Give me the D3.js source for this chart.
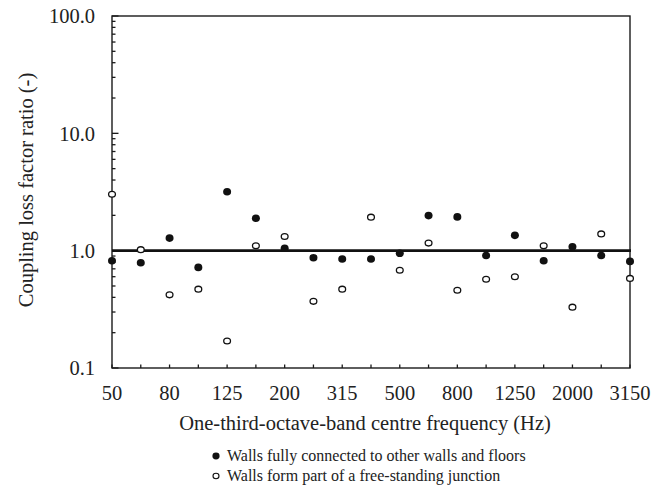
<!DOCTYPE html>
<html>
<head>
<meta charset="utf-8">
<script src="https://cdn.jsdelivr.net/npm/d3@7"></script>
<style>
  html, body { margin: 0; padding: 0; background: #fff; }
  svg { display: block; }
</style>
</head>
<body>
<svg id="chart" width="651" height="488"></svg>
<script>
const categories = [50, 63, 80, 100, 125, 160, 200, 250, 315, 400, 500, 630, 800, 1000, 1250, 1600, 2000, 2500, 3150];
const xTickLabels = [50, 80, 125, 200, 315, 500, 800, 1250, 2000, 3150];
const connected = [0.82, 0.79, 1.28, 0.72, 3.18, 1.89, 1.05, 0.87, 0.85, 0.85, 0.95, 1.99, 1.94, 0.91, 1.35, 0.82, 1.08, 0.91, 0.81];
const freeStanding = [3.03, 1.02, 0.42, 0.47, 0.17, 1.10, 1.32, 0.37, 0.47, 1.93, 0.68, 1.16, 0.46, 0.57, 0.60, 1.10, 0.33, 1.39, 0.58];
const yTickValues = [0.1, 1, 10, 100];
const referenceValue = 1.0;
const legendLabels = ["Walls fully connected to other walls and floors", "Walls form part of a free-standing junction"];

(function () {
const FONT = "'Liberation Serif', 'DejaVu Serif', 'Times New Roman', serif";
const TXT = "#222";
const svg = d3.select("#chart");
const pLeft = 112, pRight = 630, pTop = 16, pBottom = 368;

const x = d3.scalePoint().domain(categories).range([pLeft, pRight]).padding(0);
const y = d3.scaleLog().domain([0.1, 100]).range([pBottom, pTop]);

const axisColor = "#1a1a1a";

// minor y ticks
const minor = [];
for (let d = 0.1; d < 100; d *= 10) {
  for (let k = 2; k <= 9; k++) minor.push(+(d * k).toPrecision(3));
}
svg.append("g").selectAll("line").data(minor).join("line")
  .attr("x1", pLeft).attr("x2", pLeft + 3.5)
  .attr("y1", d => y(d)).attr("y2", d => y(d))
  .attr("stroke", axisColor).attr("stroke-width", 1.3);
svg.append("g").selectAll("line").data(yTickValues).join("line")
  .attr("x1", pLeft).attr("x2", pLeft + 6.5)
  .attr("y1", d => y(d)).attr("y2", d => y(d))
  .attr("stroke", axisColor).attr("stroke-width", 1.3);

// x ticks (inward)
svg.append("g").selectAll("line").data(categories).join("line")
  .attr("x1", d => x(d)).attr("x2", d => x(d))
  .attr("y1", pBottom).attr("y2", pBottom - 3.5)
  .attr("stroke", axisColor).attr("stroke-width", 1.3);

// frame
svg.append("rect")
  .attr("x", pLeft).attr("y", pTop)
  .attr("width", pRight - pLeft).attr("height", pBottom - pTop)
  .attr("fill", "none").attr("stroke", axisColor).attr("stroke-width", 1.4);

// y tick labels
svg.append("g").selectAll("text").data(yTickValues).join("text")
  .attr("x", pLeft - 17).attr("y", d => y(d))
  .attr("dy", "0.35em")
  .attr("text-anchor", "end")
  .attr("font-family", FONT).attr("fill", TXT)
  .attr("font-size", 20.5)
  .text(d => d3.format(".1f")(d));

// x tick labels
svg.append("g").selectAll("text").data(xTickLabels).join("text")
  .attr("x", d => x(d)).attr("y", 400)
  .attr("text-anchor", "middle")
  .attr("font-family", FONT).attr("fill", TXT)
  .attr("font-size", 20.5)
  .text(d => d);

// axis titles
svg.append("text")
  .attr("x", 365).attr("y", 430)
  .attr("text-anchor", "middle").attr("font-size", 20.5)
  .attr("font-family", FONT).attr("fill", TXT)
  .text("One-third-octave-band centre frequency (Hz)");
svg.append("text")
  .attr("transform", `translate(33, ${(pTop + pBottom) / 2 - 2}) rotate(-90)`)
  .attr("text-anchor", "middle").attr("font-size", 20.5)
  .attr("font-family", FONT).attr("fill", TXT)
  .text("Coupling loss factor ratio (-)");

// reference line
svg.append("line")
  .attr("x1", pLeft).attr("x2", pRight + 1)
  .attr("y1", y(referenceValue)).attr("y2", y(referenceValue))
  .attr("stroke", "#111").attr("stroke-width", 2.6);

// filled points
svg.append("g").selectAll("ellipse").data(categories.map((c, i) => [c, connected[i]])).join("ellipse")
  .attr("cx", d => x(d[0])).attr("cy", d => y(d[1]))
  .attr("rx", 4).attr("ry", 3.8)
  .attr("fill", "#111");

// open points
svg.append("g").selectAll("ellipse").data(categories.map((c, i) => [c, freeStanding[i]])).join("ellipse")
  .attr("cx", d => x(d[0])).attr("cy", d => y(d[1]))
  .attr("rx", 3.4).attr("ry", 2.9)
  .attr("fill", "#fff").attr("stroke", "#111").attr("stroke-width", 1.3);

// legend
const lg = svg.append("g");
lg.append("ellipse").attr("cx", 216).attr("cy", 456).attr("rx", 3.6).attr("ry", 3.4).attr("fill", "#111");
lg.append("text").attr("x", 227).attr("y", 461)
  .attr("font-family", FONT).attr("fill", TXT).attr("font-size", 16).text(legendLabels[0]);
lg.append("ellipse").attr("cx", 216).attr("cy", 476).attr("rx", 3).attr("ry", 2.7)
  .attr("fill", "#fff").attr("stroke", "#111").attr("stroke-width", 1.1);
lg.append("text").attr("x", 227).attr("y", 481)
  .attr("font-family", FONT).attr("fill", TXT).attr("font-size", 16).text(legendLabels[1]);
})();
</script>
</body>
</html>
